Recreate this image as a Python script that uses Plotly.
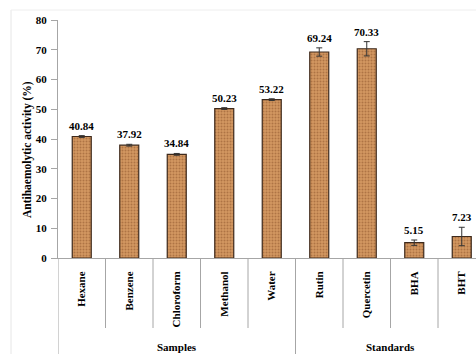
import plotly.graph_objects as go

categories = ["Hexane", "Benzene", "Chloroform", "Methanol", "Water", "Rutin", "Quercetin", "BHA", "BHT"]
values = [40.84, 37.92, 34.84, 50.23, 53.22, 69.24, 70.33, 5.15, 7.23]
errors = [0.3, 0.3, 0.3, 0.3, 0.3, 1.4, 2.4, 0.9, 3.1]
value_labels = ["40.84", "37.92", "34.84", "50.23", "53.22", "69.24", "70.33", "5.15", "7.23"]
groups = ["Samples", "Standards"]
group_centers = [2, 6.5]
y_ticks = [0, 10, 20, 30, 40, 50, 60, 70, 80]

FONT = "Liberation Serif"
W, H = 476, 354
ML, MT, MB = 58, 20, 96
plot_h = H - MT - MB
plot_w = W - ML

x_idx = list(range(len(categories)))

fig = go.Figure()
fig.add_trace(go.Bar(
    x=x_idx, y=values, width=0.4,
    marker=dict(
        color="#CE925E",
        line=dict(color="#3E2A1C", width=1.2),
        pattern=dict(shape=".", fgcolor="#8A5128", bgcolor="#D29761", size=3, solidity=0.35),
    ),
    error_y=dict(type="data", array=errors, visible=True, color="#333333", thickness=1, width=3),
))

annotations = []
for i, (v, e, lab) in enumerate(zip(values, errors, value_labels)):
    annotations.append(dict(x=i, y=v + e, xref="x", yref="y", text=lab, showarrow=False,
                            yanchor="bottom", yshift=2,
                            font=dict(family=FONT, size=11, color="black", weight="bold")))
for g, c in zip(groups, group_centers):
    annotations.append(dict(x=c, y=(258 - 347) / plot_h, xref="x", yref="paper", text=g, showarrow=False,
                            yanchor="middle", font=dict(family=FONT, size=11, color="black", weight="bold")))
annotations.append(dict(x=(27 - ML) / plot_w, y=(258 - 150) / plot_h, xref="paper", yref="paper",
                        xanchor="center", yanchor="middle",
                        text="Antihaemolytic activity (%)", textangle=-90, showarrow=False,
                        font=dict(family=FONT, size=11.5, color="black", weight="bold")))

shapes = []
for i in range(len(categories)):
    xb = i + 0.5
    if xb > 8.3:
        continue
    bottom = (258 - 354) / plot_h if i == 4 else (258 - 328) / plot_h
    shapes.append(dict(type="line", xref="x", yref="paper", x0=xb, x1=xb, y0=0, y1=bottom,
                       line=dict(color="#A6A6A6", width=1)))
shapes.append(dict(type="line", xref="x", yref="paper", x0=-0.5, x1=-0.5, y0=0, y1=(258 - 360) / plot_h,
                   line=dict(color="#A6A6A6", width=1)))
bx = (11 - ML) / plot_w
by = (258 - 10) / plot_h
shapes.append(dict(type="line", xref="paper", yref="paper", x0=bx, x1=bx, y0=by, y1=-0.5,
                   line=dict(color="#E6E6E6", width=1)))
shapes.append(dict(type="line", xref="paper", yref="paper", x0=bx, x1=1.1, y0=by, y1=by,
                   line=dict(color="#EEEEEE", width=1)))

fig.update_layout(
    width=W, height=H,
    margin=dict(l=ML, r=0, t=MT, b=MB),
    paper_bgcolor="white", plot_bgcolor="white",
    showlegend=False,
    annotations=annotations, shapes=shapes,
    xaxis=dict(range=[-0.5, 8.3], tickmode="array", tickvals=x_idx, ticktext=categories,
               tickangle=-90, ticks="", ticklabelstandoff=8, showline=True, linecolor="#A6A6A6",
               linewidth=1, showgrid=False, zeroline=False,
               tickfont=dict(family=FONT, size=11, color="black", weight="bold")),
    yaxis=dict(range=[0, 80], tickmode="array", tickvals=y_ticks, ticks="outside", ticklen=6,
               tickcolor="#A6A6A6", showline=True, linecolor="#A6A6A6", linewidth=1,
               showgrid=False, zeroline=False, ticklabelstandoff=2,
               tickfont=dict(family=FONT, size=11, color="black", weight="bold")),
)

fig.write_html("out.html")
